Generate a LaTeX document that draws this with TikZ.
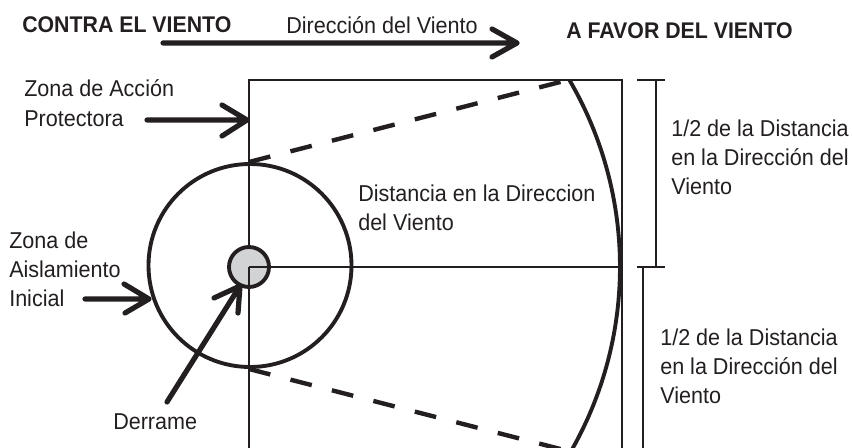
\documentclass[tikz,border=0pt]{standalone}
\usepackage{fontspec}
\setmainfont[FakeStretch=0.94]{Liberation Sans}
\definecolor{ink}{HTML}{231F20}
\definecolor{spillgrey}{HTML}{D1D3D4}
\tikzset{
 thinln/.style={draw=ink,line width=2pt},
 ringln/.style={draw=ink,line width=2.9pt},
 arrowln/.style={draw=ink,line width=3.9pt,line cap=round,line join=round},
 dashln/.style={draw=ink,line width=3.3pt,dash pattern=on 16.5pt off 15.6pt},
 lbl/.style={anchor=base west,inner sep=0pt,font=\fontsize{17.2}{19}\selectfont,text=ink,align=left},
 lblb/.style={anchor=base west,inner sep=0pt,font=\fontsize{17}{19}\selectfont\bfseries,text=ink},
}
\begin{document}
\begin{tikzpicture}[x=0.75pt,y=-0.75pt]
\useasboundingbox (0,0) rectangle (852,448);
\begin{scope}
\clip (0,0) rectangle (852,448);
\coordinate (c) at (249,267);
\coordinate (tl) at (249,80);
\coordinate (tr) at (622,80);
\coordinate (bl) at (249,460);
\coordinate (br) at (622,460);
\coordinate (re) at (622,267);
\draw[thinln] (bl) -- (tl) -- (tr) -- (br);
\draw[thinln] (c) -- (re);
% dashed rays
\coordinate (ua) at (249,162);
\coordinate (ub) at (568,80);
\coordinate (la) at (249,369);
\coordinate (lb) at (572,452);
\draw[dashln] (ua) -- (ub);
\draw[dashln] (la) -- (lb);
% arc
\draw[ringln] (c) ++(30.2:371) arc[start angle=-30.2,end angle=30.2,radius=371*0.75pt];
% circles
\node[circle,ringln,minimum size=203*0.75pt,inner sep=0pt] (big) at (250,265.5) {};
\node[circle,ringln,fill=spillgrey,minimum size=40*0.75pt,inner sep=0pt] (spill) at (c) {};
\draw[thinln] (c) -- ++(0,21) (c) -- ++(21,0);
% brackets
\coordinate (t1) at (637,80);\coordinate (t2) at (665,80);
\coordinate (m1) at (637,267);\coordinate (m2) at (665,267);
\coordinate (u1) at (656,80);\coordinate (u2) at (656,267);
\coordinate (v1) at (643,267);\coordinate (v2) at (643,460);
\draw[thinln] (t1) -- (t2) (m1) -- (m2) (u1) -- (u2) (v1) -- (v2);
% arrows
\coordinate (wa) at (163,43);\coordinate (wt) at (517,43);
\coordinate (wb) at (492,29);\coordinate (wc) at (492,57);
\draw[arrowln] (wa) -- (wt) (wb) -- (wt) -- (wc);
\coordinate (pa) at (147,120);\coordinate (pt) at (247,120);
\coordinate (pb) at (222,105);\coordinate (pc) at (222,136);
\draw[arrowln] (pa) -- (pt) (pb) -- (pt) -- (pc);
\coordinate (ia) at (85,299);\coordinate (it) at (149,299);
\coordinate (ib) at (124,284);\coordinate (ic) at (125,313);
\draw[arrowln] (ia) -- (it) (ib) -- (it) -- (ic);
\coordinate (da) at (167,402);\coordinate (dt) at (240,286);
\coordinate (db) at (214,298);\coordinate (dc) at (238,313);
\draw[arrowln] (da) -- (dt) (db) -- (dt) -- (dc);
\end{scope}
% labels
\node[lblb] (n1) at (22,32.5) {CONTRA EL VIENTO};
\node[lbl] (n2) at (286,33.5) {Dirección del Viento};
\node[lblb] (n3) at (566,38.5) {A FAVOR DEL VIENTO};
\node[lbl] (n4) at (24,97) {Zona de Acción};
\node[lbl] (n5) at (24,126.5) {Protectora};
\node[lbl] (n6) at (9,249) {Zona de};
\node[lbl] (n7) at (9,277.5) {Aislamiento};
\node[lbl] (n8) at (9,306.5) {Inicial};
\node[lbl] (n9) at (113,429) {Derrame};
\node[lbl] (n10) at (358,201.5) {Distancia en la Direccion};
\node[lbl] (n11) at (358,231) {del Viento};
\node[lbl] (n12) at (671,136.5) {1/2 de la Distancia};
\node[lbl] (n13) at (671,166) {en la Dirección del};
\node[lbl] (n14) at (671,195) {Viento};
\node[lbl] (n15) at (660,346) {1/2 de la Distancia};
\node[lbl] (n16) at (660,375) {en la Dirección del};
\node[lbl] (n17) at (660,403.5) {Viento};
\end{tikzpicture}
\end{document}
